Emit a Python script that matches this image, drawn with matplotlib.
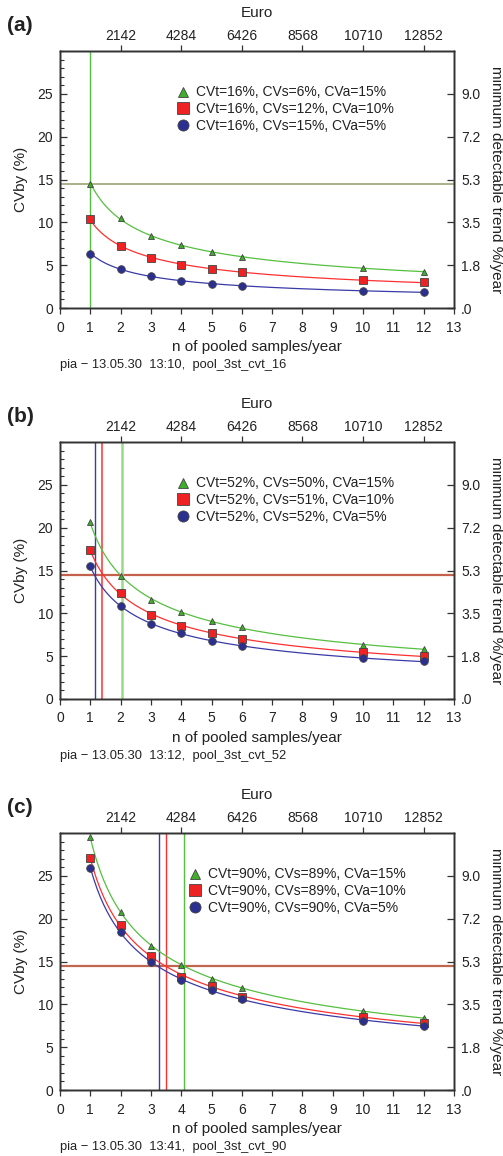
"""
Pooled samples: CVby vs. number of pooled samples per year, three panels
"""

import numpy as np
import matplotlib
matplotlib.use('Agg')
import matplotlib.pyplot as plt
from matplotlib.ticker import MultipleLocator

plt.rcParams['font.family'] = ['Liberation Sans', 'DejaVu Sans']

# shared axes data
n_samples = [1, 2, 3, 4, 5, 6, 10, 12]
x_ticks = list(range(0, 14))
euro_ticks = [2, 4, 6, 8, 10, 12]
euro_labels = ['2142', '4284', '6426', '8568', '10710', '12852']
trend_ticks = [0, 5, 10, 15, 20, 25]
trend_labels = ['.0', '1.8', '3.5', '5.3', '7.2', '9.0']
threshold = 14.5

# panel (a)
a_green = [14.5, 10.5, 8.45, 7.3, 6.58, 5.9, 4.67, 4.24]
a_red = [10.4, 7.2, 5.88, 5.06, 4.6, 4.17, 3.23, 3.0]
a_blue = [6.35, 4.56, 3.7, 3.19, 2.84, 2.6, 1.99, 1.83]
a_labels = ['CVt=16%, CVs=6%, CVa=15%', 'CVt=16%, CVs=12%, CVa=10%',
            'CVt=16%, CVs=15%, CVa=5%']
a_cross = [1.0, None, None]          # green, red, blue
a_footer = 'pia \u2212 13.05.30  13:10,  pool_3st_cvt_16'

# panel (b)
b_green = [20.7, 14.3, 11.56, 10.1, 9.14, 8.44, 6.33, 5.78]
b_red = [17.4, 12.4, 9.84, 8.5, 7.66, 7.03, 5.47, 5.0]
b_blue = [15.5, 10.8, 8.8, 7.66, 6.8, 6.17, 4.77, 4.38]
b_labels = ['CVt=52%, CVs=50%, CVa=15%', 'CVt=52%, CVs=51%, CVa=10%',
            'CVt=52%, CVs=52%, CVa=5%']
b_cross = [2.06, 1.40, 1.15]
b_footer = 'pia \u2212 13.05.30  13:12,  pool_3st_cvt_52'

# panel (c)
c_green = [29.5, 20.8, 16.86, 14.64, 13.0, 11.9, 9.27, 8.37]
c_red = [27.1, 19.3, 15.6, 13.2, 12.15, 10.9, 8.57, 7.79]
c_blue = [25.9, 18.4, 15.0, 12.85, 11.7, 10.6, 8.1, 7.48]
c_labels = ['CVt=90%, CVs=89%, CVa=15%', 'CVt=90%, CVs=89%, CVa=10%',
            'CVt=90%, CVs=90%, CVa=5%']
c_cross = [4.10, 3.51, 3.25]
c_footer = 'pia \u2212 13.05.30  13:41,  pool_3st_cvt_90'

SPINE = '#333333'
TEXT = '#222222'
marker_colors = ['#3fae2a', '#ee2222', '#2b2f8f']
line_colors = ['#55c040', '#ff3030', '#3a3aa8']
markers = ['^', 's', 'o']
marker_sizes = [5.0, 5.5, 5.5]


def power_fit(n, y):
    """Fit y = a * n^b in log-log space, return smooth curve over the n range."""
    coef = np.polyfit(np.log(n), np.log(y), 1)
    nn = np.linspace(min(n), max(n), 200)
    return nn, np.exp(np.polyval(coef, np.log(nn)))


def draw_panel(rect, tag, series, labels, cross, footer, hline_color,
               hline_width, vline_colors, vline_widths, legend_x):
    ax = fig.add_axes(rect)
    ax.set_xlim(0, 13)
    ax.set_ylim(0, 30)

    # crossing lines
    ax.axhline(threshold, color=hline_color, lw=hline_width, zorder=1)
    for xc, col, lw in zip(cross, vline_colors, vline_widths):
        if xc is not None:
            ax.axvline(xc, color=col, lw=lw, zorder=1)

    # fitted curves then the points
    for i, y in enumerate(series):
        nn, yy = power_fit(n_samples, y)
        ax.plot(nn, yy, color=line_colors[i], lw=0.9, zorder=2)
    for i, y in enumerate(series):
        ax.plot(n_samples, y, linestyle='none', marker=markers[i],
                markersize=marker_sizes[i], markerfacecolor=marker_colors[i],
                markeredgecolor='#444444', markeredgewidth=0.6,
                label=labels[i], zorder=3)

    ax.set_xticks(x_ticks)
    ax.set_yticks(trend_ticks)
    ax.yaxis.set_minor_locator(MultipleLocator(1))
    ax.tick_params(axis='x', direction='out', length=4, width=0.9,
                   pad=5, labelsize=10, colors=SPINE, labelcolor=TEXT)
    ax.tick_params(axis='y', which='major', direction='in', length=5,
                   width=0.9, pad=5, labelsize=10, colors=SPINE, labelcolor=TEXT)
    ax.tick_params(axis='y', which='minor', direction='in', length=3,
                   width=0.8, colors=SPINE)
    for sp in ax.spines.values():
        sp.set_color(SPINE)
        sp.set_linewidth(1.0)

    ax.set_xlabel('n of pooled samples/year', fontsize=11, color=TEXT,
                  labelpad=4)
    ax.set_ylabel('CVby (%)', fontsize=11, color=TEXT, labelpad=7)

    # top axis: cost in Euro
    top = ax.twiny()
    top.set_xlim(ax.get_xlim())
    top.set_xticks(euro_ticks)
    top.set_xticklabels(euro_labels)
    top.tick_params(axis='x', direction='out', length=4, width=0.9, pad=1.5,
                    labelsize=10, colors=SPINE, labelcolor=TEXT)
    top.set_xlabel('Euro', fontsize=11, color=TEXT, labelpad=9)

    # right axis: minimum detectable trend
    right = ax.twinx()
    right.set_ylim(ax.get_ylim())
    right.set_yticks(trend_ticks)
    right.set_yticklabels(trend_labels)
    right.tick_params(axis='y', direction='in', length=5, width=0.9, pad=5,
                      labelsize=10, colors=SPINE, labelcolor=TEXT)
    right.set_ylabel('minimum detectable trend %/year', fontsize=11,
                     color=TEXT, rotation=-90, labelpad=16)
    for a in (top, right):
        for sp in a.spines.values():
            sp.set_color(SPINE)
            sp.set_linewidth(1.0)

    leg = ax.legend(loc='upper left', bbox_to_anchor=(legend_x, 0.866),
                    frameon=False, fontsize=10, markerscale=1.45,
                    handlelength=0.8, handletextpad=0.55, labelspacing=0.2,
                    borderpad=0, borderaxespad=0)
    for t in leg.get_texts():
        t.set_color(TEXT)

    x0, y0, w, h = rect
    fig.text(x0 - 0.105, y0 + h + 0.022, tag, fontsize=15, fontweight='bold',
             color=TEXT, va='center', ha='left')
    fig.text(x0, y0 - 0.049, footer, fontsize=9.3, color=TEXT,
             va='center', ha='left')
    return ax


fig = plt.figure(figsize=(5.03, 11.56), dpi=100)

left = 60 / 503
width = 394 / 503
height = 257 / 1156
bottoms = [1 - 308 / 1156, 1 - 699 / 1156, 1 - 1090 / 1156]

draw_panel([left, bottoms[0], width, height], '(a)',
           [a_green, a_red, a_blue], a_labels, a_cross, a_footer,
           '#929d68', 1.1, line_colors, [1.0, 1.0, 1.0], 0.298)
draw_panel([left, bottoms[1], width, height], '(b)',
           [b_green, b_red, b_blue], b_labels, b_cross, b_footer,
           '#c4614a', 1.6, ['#99d98a', '#ff3030', '#3a3aa8'],
           [1.8, 1.1, 1.0], 0.298)
draw_panel([left, bottoms[2], width, height], '(c)',
           [c_green, c_red, c_blue], c_labels, c_cross, c_footer,
           '#c0664e', 1.6, line_colors, [1.0, 1.0, 1.0], 0.328)

plt.savefig('out.png', dpi=100)
plt.close()
